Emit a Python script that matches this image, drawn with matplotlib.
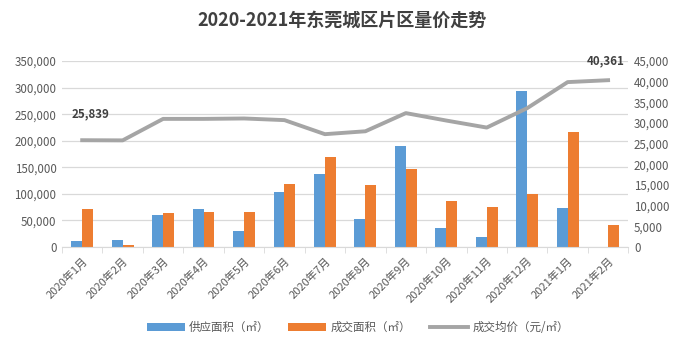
import matplotlib
matplotlib.use("Agg")
import matplotlib.pyplot as plt
import numpy as np
from matplotlib.ticker import FuncFormatter, FixedLocator

plt.rcParams['font.family'] = ['Noto Sans CJK SC', 'DejaVu Sans']

months = ["2020年1月", "2020年2月", "2020年3月", "2020年4月", "2020年5月",
          "2020年6月", "2020年7月", "2020年8月", "2020年9月", "2020年10月",
          "2020年11月", "2020年12月", "2021年1月", "2021年2月"]
supply = [12000, 14000, 61000, 71000, 30000, 104000, 137000, 52000,
          190000, 35000, 19000, 294000, 73000, 0]
deal = [71000, 4400, 64000, 66000, 66000, 118000, 170000, 116000,
        147000, 87000, 76000, 99000, 216000, 42000]
price = [25839, 25800, 31000, 31000, 31100, 30700, 27300, 28000,
         32400, 30600, 28900, 33600, 39900, 40361]

BLUE = "#5B9BD5"
ORANGE = "#ED7D31"
GRAY = "#A5A5A5"
TXT = "#595959"
GRID = "#D9D9D9"

fig = plt.figure(figsize=(6.84, 3.59), dpi=100)
ax = fig.add_axes([0.0906, 0.312, 0.828, 0.518])
ax2 = ax.twinx()

x = np.arange(len(months))
w = 0.27
ax.bar(x - w / 2, supply, width=w, color=BLUE, label="供应面积（㎡）", zorder=2)
ax.bar(x + w / 2, deal, width=w, color=ORANGE, label="成交面积（㎡）", zorder=2)
ax2.plot(x, price, color=GRAY, lw=2.8, label="成交均价（元/㎡）", zorder=3)

ax.set_xlim(-0.5, len(months) - 0.5)
ax.set_ylim(0, 350000)
ax2.set_ylim(0, 45000)
ax.set_yticks(np.arange(0, 350001, 50000))
ax2.set_yticks(np.arange(0, 45001, 5000))
fmt = FuncFormatter(lambda v, p: f"{int(v):,}")
ax.yaxis.set_major_formatter(fmt)
ax2.yaxis.set_major_formatter(fmt)
ax.grid(axis="y", color=GRID, lw=0.9, zorder=0)
ax.set_axisbelow(True)

for a in (ax, ax2):
    for s in ("top", "left", "right"):
        a.spines[s].set_visible(False)
    a.tick_params(axis="y", length=0, labelsize=8.3, labelcolor=TXT, pad=4)
ax2.spines["bottom"].set_visible(False)
ax.spines["bottom"].set_color(GRID)

ax.set_xticks(x)
ax.set_xticklabels(months, rotation=45, ha="right", rotation_mode="anchor",
                   fontsize=8, color=TXT)
ax.tick_params(axis="x", which="major", length=0, pad=6)
ax.xaxis.set_minor_locator(FixedLocator(np.arange(-0.5, len(months), 1.0)))
ax.tick_params(axis="x", which="minor", length=4, color=GRID)

ax2.annotate(f"{price[0]:,}", (x[0], price[0]), xytext=(6, 14),
             textcoords="offset points", ha="center", va="bottom",
             fontsize=8.3, fontweight="bold", color="#404040")
ax2.annotate(f"{price[-1]:,}", (x[-1], price[-1]), xytext=(-2, 9),
             textcoords="offset points", ha="center", va="bottom",
             fontsize=8.3, fontweight="bold", color="#404040")

fig.suptitle("2020-2021年东莞城区片区量价走势", x=0.5, y=0.97,
             fontsize=13, fontweight="bold", color="#404040")

h1, l1 = ax.get_legend_handles_labels()
h2, l2 = ax2.get_legend_handles_labels()
fig.legend(h1 + h2, l1 + l2, loc="center", bbox_to_anchor=(0.523, 0.088),
           ncol=3, frameon=False, fontsize=8.3, labelcolor=TXT,
           handlelength=3.3, handleheight=0.6, columnspacing=1.6,
           handletextpad=0.4)

fig.savefig("out.png", dpi=100)
